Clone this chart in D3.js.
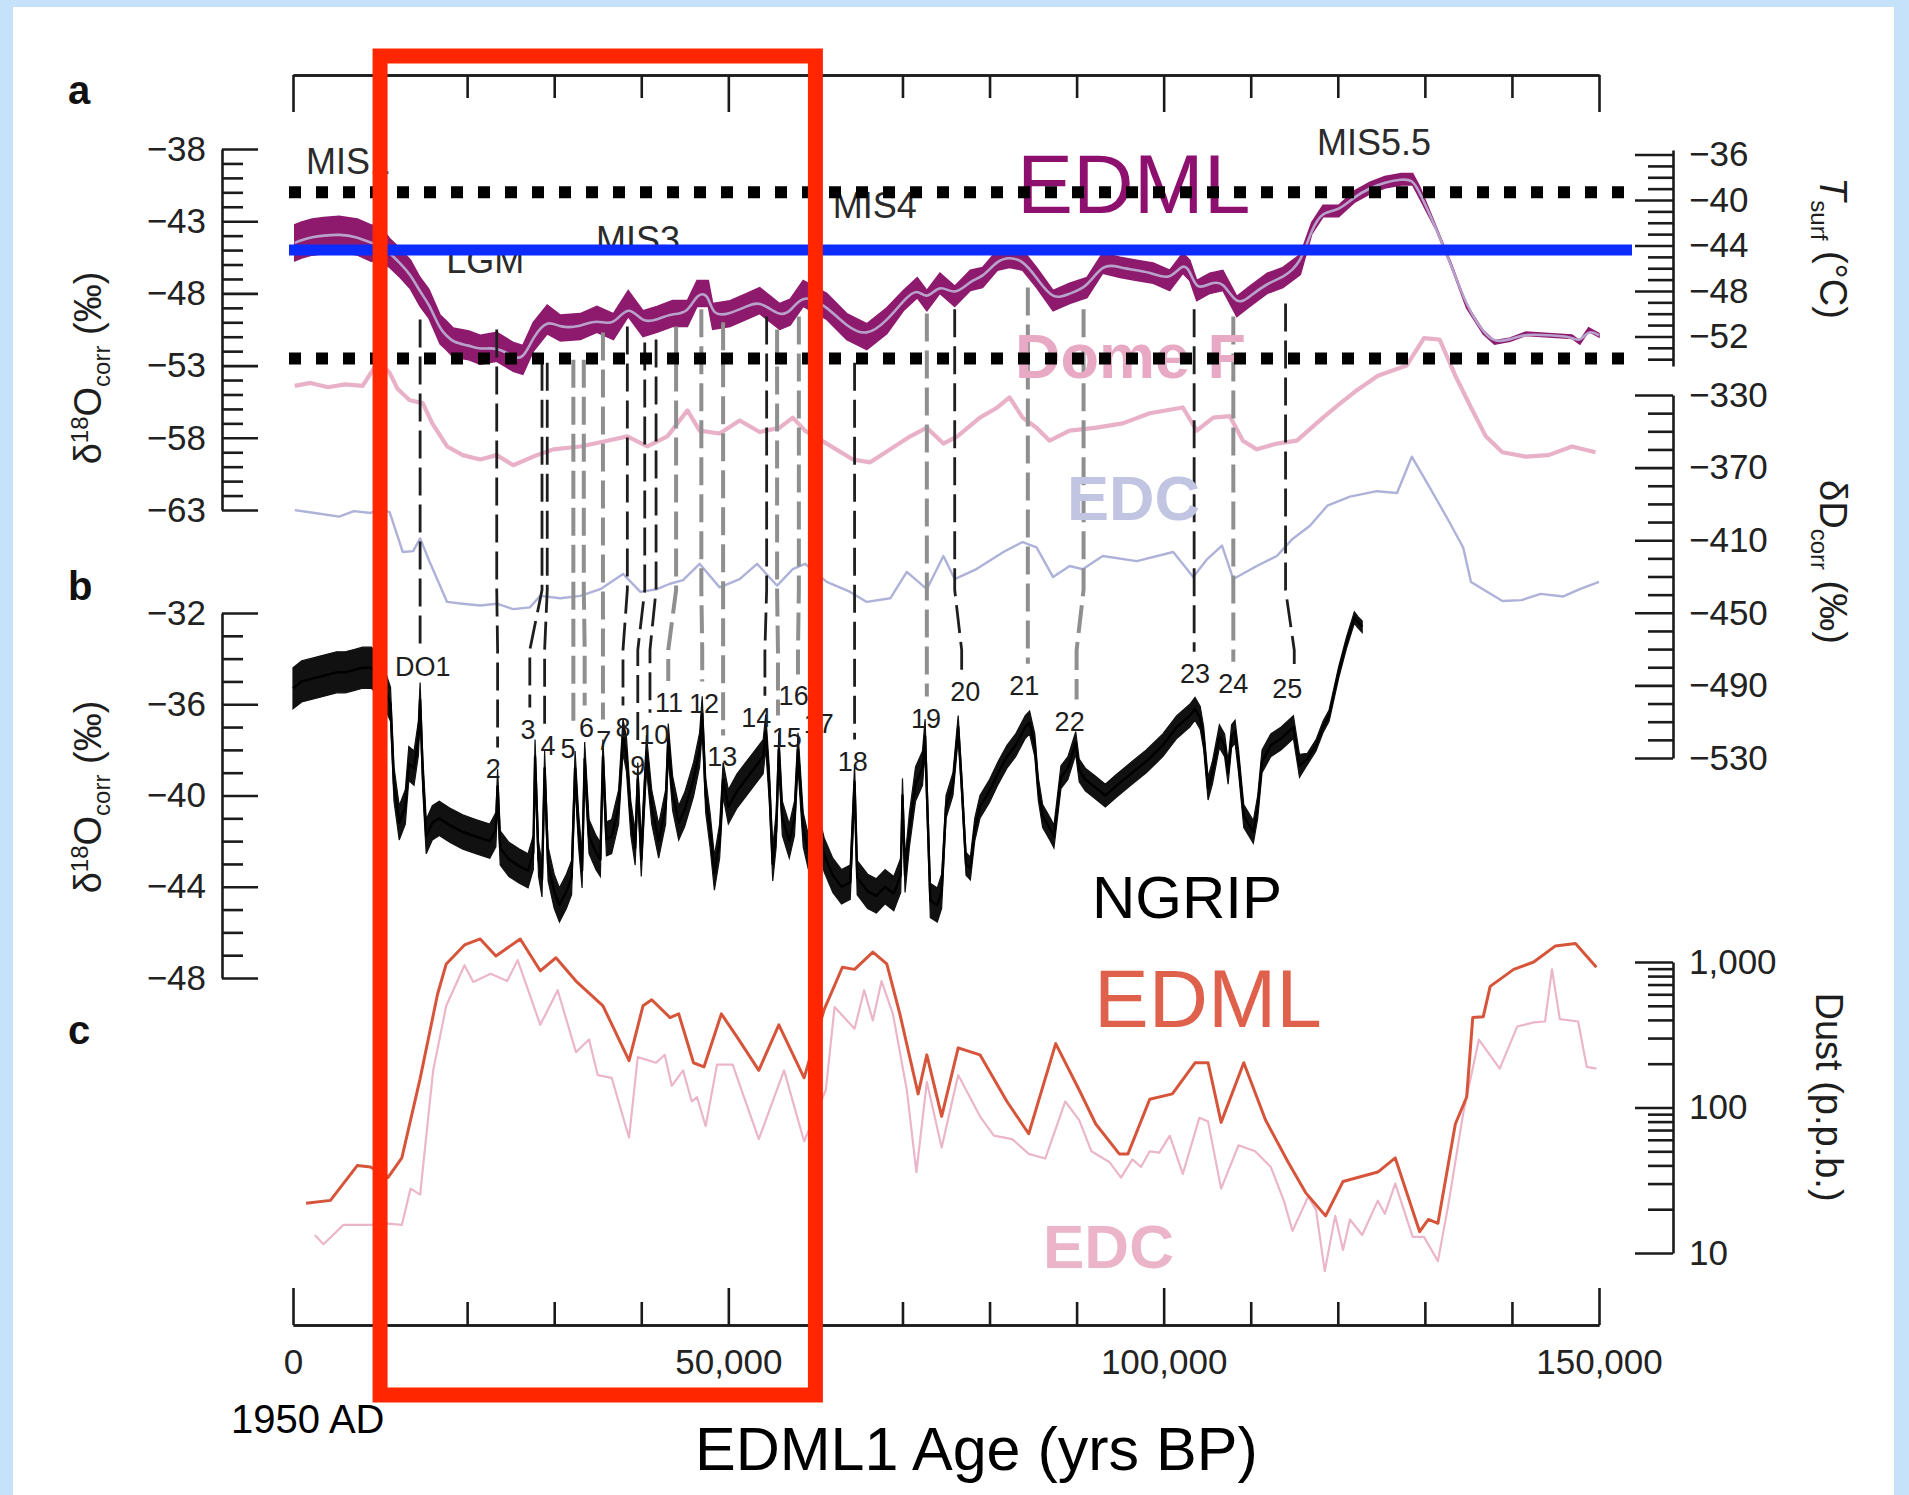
<!DOCTYPE html>
<html><head><meta charset="utf-8">
<script src="https://cdn.jsdelivr.net/npm/d3@7"></script>
<style>body{margin:0;background:#c6e2fa;}svg{display:block}</style>
</head><body><svg id="c" width="1909" height="1495"></svg>
<script>
// ---------------- DATA ----------------
// Panel a: EDML d18O (permil), ages in kyr BP
const edmlAge = [0.2,1,2.2,3.5,5.3,7.4,8.9,10,11.1,12.3,13.5,14.6,15.6,16.9,17.6,18.4,20.2,21.5,23.4,25.3,26.4,27.6,29.2,30.7,33,34.9,36.8,38.5,40.2,41.8,43.6,45.3,46.4,47.7,48.2,50.2,52.1,53.6,55.9,57.1,58.6,61.3,63.6,65.9,68.2,70.1,71.7,72.8,74.3,76,77.8,79.2,80.9,82.3,83.8,85.4,87.3,89.2,91.2,93,95,96.9,98.8,100.7,102.2,103,103.8,105.3,106.8,108.4,109.9,111.9,113.7,115.7,117,118.3,120.1,121.9,123.7,125.4,127.3,128.6,129.4,131.3,133,134.8,136.7,138,139.8,141.6,144.2,146.9,147.8,148.8,150];
const edmlD18O = [-44.5,-44.3,-44.1,-44.0,-43.9,-44.1,-44.5,-44.6,-45.2,-45.9,-46.7,-47.9,-48.7,-50.5,-50.9,-51.4,-51.6,-51.9,-51.7,-52.4,-52.6,-51.0,-49.8,-50.4,-50.3,-49.8,-50.3,-48.7,-50.1,-49.8,-49.4,-49.4,-48.0,-48.0,-49.6,-49.4,-48.9,-48.5,-49.6,-49.3,-48.0,-48.9,-50.3,-51.0,-49.9,-48.5,-47.6,-48.5,-47.3,-48.2,-47.1,-46.9,-45.7,-45.5,-45.7,-46.9,-48.5,-48.0,-47.6,-45.9,-46.2,-46.4,-46.6,-47.1,-45.9,-46.4,-47.8,-47.3,-47.1,-48.9,-48.2,-47.3,-46.9,-46.0,-43.5,-42.3,-42.3,-41.3,-40.7,-40.3,-40.1,-40.1,-41.0,-43.5,-46.0,-48.9,-50.7,-51.4,-51.2,-50.8,-50.9,-51.0,-51.4,-50.5,-50.9];
// Dome F d18O (permil)
const domeFAge = [0.2,2,4,6,8,9.8,11.1,12,13.4,14.9,16,17.7,19.5,21.5,23.4,25.3,27.6,29.9,33,36.1,38.4,40.7,43,45.3,46.7,49,51.3,53.6,55.9,57.4,58.8,61.3,64.3,66.3,68.6,70.9,72.8,74.7,76.3,78.9,80.9,82.3,83.8,85.4,86.9,89.2,92.3,95.3,98.4,102.2,103.8,105.7,107.6,109.1,110.7,113,115.3,118.3,120.1,122.2,124.6,127.9,129.9,131.7,133.5,135.3,137,138.9,141.6,144.2,146.9,149.6];
const domeFD18O = [-54.4,-54.2,-54.5,-54.3,-54.4,-52.7,-53.5,-54.6,-55.4,-55.6,-57.0,-58.6,-59.2,-59.5,-59.2,-59.9,-59.3,-58.8,-58.6,-58.2,-57.9,-58.6,-57.9,-56.1,-57.5,-57.7,-56.8,-57.6,-57.3,-56.6,-57.5,-58.4,-59.5,-59.7,-58.8,-57.9,-57.3,-58.4,-57.9,-56.6,-55.9,-55.2,-56.6,-57.3,-58.2,-57.5,-57.3,-57.0,-56.3,-55.9,-57.5,-56.6,-56.5,-58.2,-58.8,-58.4,-58.2,-56.6,-55.7,-54.7,-53.7,-53.0,-51.1,-51.2,-53.7,-55.9,-57.9,-59.0,-59.3,-59.2,-58.6,-59.0];
// EDC dD (permil)
const edcAge = [0.2,2.5,5.3,7,8.9,10,11.1,12.6,13.8,14.6,15.7,17.7,19.5,21.5,23.4,25.3,27.2,28.4,30.7,33,35.3,37.9,39.9,41.8,43.3,44.8,46.7,49,51.3,53.3,55.6,57.4,58.8,61.3,64,65.9,68.6,70.5,72.8,74.7,76,78.5,81.6,83.8,85.4,87.3,89.2,90.7,93,96.9,101.1,103.4,105,106.7,108,110.7,113,114.8,116.8,118.8,121.4,124.5,126.8,128.5,130.4,132.7,134.4,135.3,138.9,141.1,143.3,145.9,147.8,150];
const edcDD = [-393.4,-395,-397,-394,-395,-393,-394.5,-416.5,-416,-409,-422,-444,-445,-446,-445,-448,-447,-440.7,-442,-440.7,-437,-428.6,-438.5,-437,-434,-432,-423,-436,-431.4,-423,-435,-425.9,-423,-433,-438.5,-444,-442,-427.5,-437,-418.7,-431.4,-425.9,-416.5,-411,-414,-430.3,-424.2,-426,-418.7,-421.5,-416.5,-430.3,-420.4,-413,-431.4,-424.2,-418.7,-409.3,-402,-391,-386,-383,-384,-364,-379.6,-399,-414,-433,-443.5,-443,-439.6,-441,-437,-433];
// Panel b: NGRIP d18O (permil)
const ngripAge = [0,1,2,3,4,5,6,7,8,9,10,11.2,11.6,12.2,12.9,13.3,13.9,14.4,14.6,14.9,15.3,16,16.8,18,19.5,21,22.6,23.3,23.5,23.8,24.8,26,27,27.6,27.8,28.2,28.6,28.9,29.3,30,30.6,31.4,32,32.4,32.8,33.2,33.5,34,34.8,35.3,35.6,36,36.6,37.4,37.9,38.3,38.8,39.3,39.6,40,40.6,41.2,42,42.8,43.1,43.6,44.3,45,46,46.7,47,47.4,47.9,48.4,49,49.4,50,51,52,53,54,54.3,54.7,55.1,55.5,55.8,56.2,57,57.6,58,58.6,59.2,59.6,60,61,62,63,64,64.5,64.8,66,67,68,69,69.8,70,70.3,70.8,71.5,72.3,72.6,72.9,73.2,74,74.5,75,75.8,76.4,76.8,77.3,77.8,78.3,78.9,80,81,82,83,84.1,84.6,85.2,85.6,86.1,87,87.4,87.8,88.2,89,89.9,90.3,91,92,93.3,94.5,96.4,98,99.9,101.5,103,103.6,104.2,104.6,105.1,105.6,106.4,107,107.4,107.8,108.2,108.6,109.2,110.3,110.8,111.3,112.3,113.5,114.9,115.6,116.5,117.5,118.3,119,120.1,121,121.9,122.3,122.8];
const ngripD18O = [-35.3,-35.0,-34.9,-34.8,-34.7,-34.6,-34.6,-34.5,-34.4,-34.4,-34.8,-36.0,-39.5,-41.2,-40.5,-38.6,-38.8,-37.5,-35.8,-39.0,-41.8,-41.2,-41.0,-41.3,-41.6,-41.8,-42.0,-41.5,-39.6,-42.3,-42.8,-43.1,-43.3,-42.5,-38.3,-42.8,-43.7,-38.8,-43.0,-44.2,-44.8,-44.2,-43.6,-38.8,-41.5,-43.3,-38.4,-41.8,-42.5,-42.8,-38.3,-41.9,-41.8,-40.5,-37.4,-38.2,-41.0,-42.3,-39.3,-42.8,-38.1,-40.5,-42.0,-40.5,-37.6,-39.9,-41.2,-40.6,-39.3,-38.0,-36.4,-40.0,-41.5,-43.4,-42.0,-39.3,-40.5,-39.8,-39.3,-38.8,-38.3,-37.2,-39.5,-43.0,-41.5,-38.0,-41.0,-42.0,-41.0,-38.0,-41.5,-42.5,-38.5,-41.0,-42.6,-43.5,-44.0,-43.8,-39.4,-43.6,-44.2,-44.4,-44.0,-44.3,-43.5,-40.0,-43.5,-41.5,-39.5,-38.8,-37.4,-41.0,-44.6,-44.8,-44.2,-40.5,-39.5,-37.0,-39.5,-43.0,-43.2,-41.5,-40.5,-39.8,-39.0,-38.3,-37.8,-37.0,-36.8,-37.8,-39.7,-40.9,-41.5,-41.8,-40.5,-39.2,-38.8,-37.7,-38.9,-39.3,-39.6,-40.0,-39.6,-39.0,-38.5,-37.8,-37.0,-36.5,-36.2,-36.6,-37.5,-39.7,-39.0,-37.4,-37.8,-39.0,-37.4,-37.2,-38.5,-40.9,-41.6,-40.5,-38.5,-37.8,-37.5,-37.0,-38.7,-38.4,-37.8,-37.0,-36.5,-34.6,-33.3,-32.2,-32.4,-32.6];
// Panel c: dust (p.p.b.)
const edmlDustAge = [1.5,4.3,7.4,8.9,10.9,12.5,14.6,16.6,17.6,19.7,21.5,23.3,26.1,28.4,30.2,32.5,35.6,38.6,40.2,41.2,43.3,44.3,46.0,47.2,49.2,51.2,53.5,55.8,58.7,61.0,63.1,64.5,66.6,68.2,69.7,71.8,72.8,74.5,76.4,78.9,82.0,84.5,87.6,90.3,92.2,94.9,95.9,98.4,101.0,103.6,105.1,106.6,109.2,111.7,114.3,116.3,118.6,120.6,124.6,126.6,129.4,130.4,131.5,133.5,134.8,135.5,136.7,137.5,140.2,142.5,145.0,147.3,149.7];
const edmlDust = [22,23,40,39,33,45,158,600,970,1310,1440,1100,1440,870,1070,740,500,210,500,550,415,440,203,190,440,293,180,370,160,470,920,890,1170,970,440,124,230,87,257,230,110,66,275,132,77,48,48,114,124,203,203,79,203,82,42,26,18,31,36,45,14,17,16,77,118,415,420,680,890,1000,1290,1340,920];
const edcDustAge = [2.5,3.5,5.8,8.9,10.9,12.5,13.5,14.6,16.1,17.6,19.7,20.7,22.7,24.6,25.8,28.4,30.4,32.5,34.0,35.0,36.6,38.6,39.6,41.7,42.7,43.5,44.8,45.8,46.4,47.4,48.7,50.5,51.8,53.5,56.4,58.7,61.2,62.2,64.5,65.6,66.6,67.6,68.9,70.5,71.6,72.8,74.5,76.4,78.9,80.5,82.6,84.5,86.4,88.7,90.3,91.7,93.8,95.1,96.4,97.4,98.4,99.5,100.7,102.2,104.1,105.1,106.6,108.6,110.5,112.3,113.8,114.8,116.6,117.5,118.5,119.7,120.6,121.4,122.8,124.6,125.4,126.6,128.6,129.9,131.5,132.7,134.4,136.2,138.6,140.6,142.5,143.8,144.6,145.5,147.6,148.6,149.7];
const edcDust = [13.3,11.5,15.6,15.6,15.9,15.6,27.7,25.2,180,500,950,730,830,740,1030,370,640,240,293,167,160,62,222,203,230,141,180,110,118,74.5,197,197,118,60.6,180,58.6,132,490,348,640,397,740,440,132,36,150,53,167,87,64,60.6,48,44.6,110,82,50,42,33,44,39,50,49,64,35,85,80,27.7,55,50,39,22.9,14.2,24.4,19.8,7.5,18,10.5,17,13.3,22.9,18.6,30,12.9,12.9,8.8,21.5,91,293,185,360,385,390,890,405,390,190,185];
// DO events: EDML age (top), NGRIP age (bottom), label placement
const doLabels = ["DO1","2","3","4","5","6","7","8","9","10","11","12","13","14","15","16","17","18","19","20","21","22","23","24","25"];
const doTopAge = [14.6,23.4,28.6,29.2,32.2,33.4,35.6,38.4,40.4,41.7,44.0,46.9,49.4,54.4,55.6,58.1,59.6,64.5,72.8,76.0,84.4,90.8,103.5,108.0,114.0];
const doTopLevel = [-49.8,-50.5,-52.8,-52.8,-52.6,-52.6,-50.7,-50.3,-51.4,-51.2,-50.3,-49.1,-50.0,-49.6,-50.5,-49.6,-49.8,-52.8,-49.4,-49.1,-47.6,-49.1,-49.1,-49.6,-48.7];
const doNgripAge = [14.6,23.5,27.2,28.9,32.2,33.5,35.6,37.9,39.6,41.0,43.1,47.0,49.4,54.2,55.7,58.0,59.6,64.5,72.8,76.8,84.4,90.0,103.5,108.0,115.0];
const doLabelAge = [14.9,23.0,27.0,29.3,31.6,33.7,35.7,37.9,39.6,41.5,43.2,47.2,49.3,53.2,56.7,57.5,60.4,64.3,72.7,77.2,84.0,89.2,103.6,108.0,114.2];
const doLabelLevel = [-34.36,-38.86,-37.11,-37.85,-37.98,-37.02,-37.63,-37.02,-38.72,-37.34,-35.95,-35.97,-38.33,-36.59,-37.46,-35.66,-36.86,-38.51,-36.63,-35.45,-35.19,-36.76,-34.66,-35.10,-35.32];
// Marine isotope stage labels
const misLabels = ["MIS1","LGM","MIS3","MIS4","MIS5.5"];
const misAge = [1.5,17.6,34.8,62,117.6];
const misLevel = [-39.7,-46.6,-45.1,-42.8,-38.4];
// Axis ticks
const xMajor = [0,50000,100000,150000];
const aMajor = [-38,-43,-48,-53,-58,-63];
const bMajor = [-32,-36,-40,-44,-48];
const tsurfMajor = [-36,-40,-44,-48,-52];
const dDMajor = [-330,-370,-410,-450,-490,-530];
const dustMajor = [10,100,1000];
// Overlay levels (panel a, permil) and highlighted age window
const dottedLevels = [-41,-52.5];
const blueLevel = -45;
const boxAges = [10000,60000];

// ---------------- DRAWING ----------------
const FF = "'Liberation Sans', Arial, Helvetica, sans-serif";
const svg = d3.select("#c");
svg.append("rect").attr("width",1909).attr("height",1495).attr("fill","#c6e2fa");
svg.append("rect").attr("x",13).attr("y",7).attr("width",1881).attr("height",1488).attr("fill","#ffffff");

const x = d3.scaleLinear().domain([0,150000]).range([293,1599]);
const ya = d3.scaleLinear().domain([-63,-38]).range([510,149]);
const yt = d3.scaleLinear().domain([-54.6,-35.6]).range([366,150]);
const yd = d3.scaleLinear().domain([-530,-330]).range([758,395]);
const yb = d3.scaleLinear().domain([-48,-32]).range([978,613]);
const yl = d3.scaleLog().domain([10,1000]).range([1253,962]);

const zip = (ages, vals) => ages.map((a,i)=>({a:a*1000, v:vals[i]}));

function drawLine(pts, ys, color, w, curve){
  svg.append("path").attr("d", d3.line().x(d=>x(d.a)).y(d=>ys(d.v)).curve(curve||d3.curveLinear)(pts))
    .attr("fill","none").attr("stroke",color).attr("stroke-width",w).attr("stroke-linejoin","round");
}

// EDC dD and Dome F
drawLine(zip(edcAge, edcDD), yd, "#aeb1d8", 2.4);
drawLine(zip(domeFAge, domeFD18O), ya, "#e9b1c7", 4.2);

// EDML band + smoothed line
const edmlPts = zip(edmlAge, edmlD18O);
const spE = a => a<11000?1.25:a<30000?1.0:a<70000?0.9:a<116000?0.7:a<130000?0.4:0.12;
svg.append("path").attr("d", d3.area().x(d=>x(d.a)).y0(d=>ya(d.v-spE(d.a))).y1(d=>ya(d.v+spE(d.a)))(edmlPts))
  .attr("fill","#8e1a6e").attr("stroke","#8e1a6e").attr("stroke-width",1.5);
drawLine(edmlPts, ya, "#b8a2cb", 2.6, d3.curveBasis);

// MIS labels
misLabels.forEach((t,i)=>{
  svg.append("text").attr("x",x(misAge[i]*1000)).attr("y",ya(misLevel[i])).text(t)
    .attr("font-family",FF).attr("font-size",36).attr("fill","#2b2b2b");
});

// DO dashed lines
const grayDO = new Set(["5","6","7","11","12","13","15","16","19","21","22","24"]);
doLabels.forEach((lab,i)=>{
  const xt = x(doTopAge[i]*1000), xb2 = x(doNgripAge[i]*1000);
  const yTop = ya(doTopLevel[i]), yBot = yb(doLabelLevel[i]) - 22;
  const pts = Math.abs(xt-xb2)<0.5 ? [[xt,yTop],[xb2,yBot]] : [[xt,yTop],[xt,590],[xb2,650],[xb2,yBot]];
  const g = grayDO.has(lab);
  svg.append("path").attr("d", d3.line()(pts)).attr("fill","none")
    .attr("stroke", g?"#8f8f8f":"#1e1e1e").attr("stroke-width", g?4:2.8).attr("stroke-dasharray","28 9");
});

// NGRIP
const ngPts = zip(ngripAge, ngripD18O);
const spN = a => a<11200?0.9:a<75000?0.75:a<116000?0.5:0.25;
svg.append("path").attr("d", d3.area().x(d=>x(d.a)).y0(d=>yb(d.v-spN(d.a))).y1(d=>yb(d.v+spN(d.a)))(ngPts))
  .attr("fill","#111").attr("stroke","#111").attr("stroke-width",1.2);
drawLine(ngPts, yb, "#000", 2.4);

// DO labels
doLabels.forEach((lab,i)=>{
  svg.append("text").attr("x",x(doLabelAge[i]*1000)).attr("y",yb(doLabelLevel[i])).text(lab)
    .attr("text-anchor","middle").attr("dominant-baseline","central")
    .attr("font-family",FF).attr("font-size",27).attr("fill","#1e1e1e");
});

// Dust
drawLine(zip(edcDustAge, edcDust), yl, "#ebb6ca", 2.2);
drawLine(zip(edmlDustAge, edmlDust), yl, "#d6553a", 3);

// white box behind the dust label
svg.append("rect").attr("x",1068).attr("y",925).attr("width",272).attr("height",136).attr("fill","#fff");

// ----- axes -----
function styleAxis(g, fs){
  g.attr("font-family",FF).attr("font-size",fs);
  g.selectAll("line").attr("stroke","#1b1b1b").attr("stroke-width",2.6);
  g.selectAll("path.domain").attr("stroke","#1b1b1b").attr("stroke-width",2.6);
  g.selectAll("text").attr("fill","#222");
}
function vAxis(scale, xPos, side, majors, minors, fmt){
  const mk = side==="left" ? d3.axisLeft : d3.axisRight;
  const gMin = svg.append("g").attr("transform",`translate(${xPos},0)`)
    .call(mk(scale).tickValues(minors).tickSizeInner(side==="left"?-21:-25).tickSizeOuter(0).tickFormat(""));
  gMin.select(".domain").remove();
  styleAxis(gMin, 10);
  const gMaj = svg.append("g").attr("transform",`translate(${xPos},0)`)
    .call(mk(scale).tickValues(majors).tickSizeInner(side==="left"?-36:-38).tickSizeOuter(0).tickPadding(16).tickFormat(fmt));
  styleAxis(gMaj, 35);
}
const fmtNum = d3.format("");
vAxis(ya, 222, "left", aMajor, d3.range(-63,-37,1).filter(v=>!aMajor.includes(v)), fmtNum);
vAxis(yb, 222, "left", bMajor, d3.range(-48,-31,1).filter(v=>!bMajor.includes(v)), fmtNum);
vAxis(yt, 1673, "right", tsurfMajor, d3.range(-54,-35,1).filter(v=>!tsurfMajor.includes(v)), fmtNum);
vAxis(yd, 1673, "right", dDMajor, d3.range(-530,-329,10).filter(v=>!dDMajor.includes(v)), fmtNum);
const dustMinor = [20,30,40,50,60,70,80,90,200,300,400,500,600,700,800,900];
vAxis(yl, 1673, "right", dustMajor, dustMinor, d3.format(","));

const xMinor = d3.range(10000,150000,10000).filter(v=>!xMajor.includes(v));
function hAxis(yPos, top){
  const mk = top ? d3.axisBottom : d3.axisTop;
  const g1 = svg.append("g").attr("transform",`translate(0,${yPos})`)
    .call(mk(x).tickValues(xMinor).tickSizeInner(23).tickSizeOuter(0).tickFormat(""));
  styleAxis(g1, 10);
  const g2 = svg.append("g").attr("transform",`translate(0,${yPos})`)
    .call(mk(x).tickValues(xMajor).tickSizeInner(37).tickSizeOuter(0).tickFormat(""));
  styleAxis(g2, 10);
}
hAxis(75, true);
hAxis(1325, false);
const gxl = svg.append("g").attr("transform","translate(0,1325)")
  .call(d3.axisBottom(x).tickValues(xMajor).tickSize(0).tickPadding(24).tickFormat(d3.format(",")));
gxl.select(".domain").remove();
styleAxis(gxl, 35);

// axis titles
function title(tx, ty, rot, parts, fs){
  const t = svg.append("text").attr("transform",`translate(${tx},${ty}) rotate(${rot})`)
    .attr("text-anchor","middle").attr("font-family",FF).attr("font-size",fs).attr("fill","#1e1e1e");
  parts.forEach(p=>{
    const s = t.append("tspan").text(p.t);
    if(p.s) s.attr("font-size",p.s);
    if(p.dy) s.attr("dy",p.dy);
    if(p.i) s.attr("font-style","italic");
  });
}
const d18Parts = [{t:"δ"},{t:"18",s:24,dy:-13},{t:"O",dy:13},{t:"corr",s:24,dy:9},{t:" (‰)",dy:-9}];
title(101, 368, -90, d18Parts, 38);
title(101, 797, -90, d18Parts, 38);
title(1820, 248, 90, [{t:"T",i:1},{t:"surf",s:24,dy:9},{t:" (°C)",dy:-9}], 38);
title(1820, 562, 90, [{t:"δD"},{t:"corr",s:24,dy:9},{t:" (‰)",dy:-9}], 38);
title(1816, 1097, 90, [{t:"Dust (p.p.b.)"}], 38);

// panel letters
[["a",104],["b",600],["c",1044]].forEach(([l,yy])=>{
  svg.append("text").attr("x",68).attr("y",yy).text(l).attr("font-family",FF)
    .attr("font-size",40).attr("font-weight","bold").attr("fill","#111");
});

// big series labels
function big(t,xx,yy,fs,col,bold){
  svg.append("text").attr("x",xx).attr("y",yy).text(t).attr("font-family",FF)
    .attr("font-size",fs).attr("fill",col).attr("font-weight",bold?"bold":"normal");
}
big("EDML",1017,213,84,"#8e106e",false);
big("Dome F",1015,378,63,"#e8a9c4",true);
big("EDC",1067,520,63,"#c2c5e2",true);
big("NGRIP",1092,918,60,"#000",false);
big("EDML",1094,1027,82,"#e0614b",false);
big("EDC",1043,1268,62,"#ecb4c9",true);

// x-axis captions
svg.append("text").attr("x",231).attr("y",1433).text("1950 AD").attr("font-family",FF).attr("font-size",40).attr("fill","#000");
svg.append("text").attr("x",695).attr("y",1470).text("EDML1 Age (yrs BP)").attr("font-family",FF).attr("font-size",61).attr("fill","#000");

// overlays: dotted lines, blue line, red box
const x0 = x(0)-4, x1 = x(150000)+33;
dottedLevels.forEach(v=>{
  svg.append("line").attr("x1",x0).attr("x2",x1).attr("y1",ya(v)).attr("y2",ya(v))
    .attr("stroke","#000").attr("stroke-width",12).attr("stroke-dasharray","12 15");
});
svg.append("line").attr("x1",x0).attr("x2",x1).attr("y1",ya(blueLevel)).attr("y2",ya(blueLevel))
  .attr("stroke","#0b2bff").attr("stroke-width",11);
svg.append("rect").attr("x",x(boxAges[0])).attr("y",56)
  .attr("width",x(boxAges[1])-x(boxAges[0])).attr("height",1339)
  .attr("fill","none").attr("stroke","#ff2600").attr("stroke-width",15);
</script></body></html>
